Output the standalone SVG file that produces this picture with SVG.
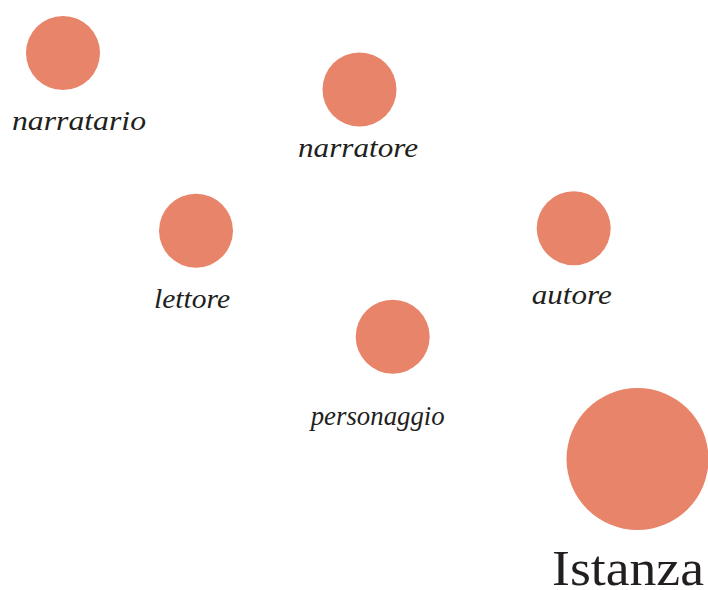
<svg xmlns="http://www.w3.org/2000/svg" width="708" height="590" viewBox="0 0 708 590">
  <style>
    .dot { fill: #E8846A; }
    .lbl { font-family: "Liberation Serif", "DejaVu Serif", serif; font-style: italic; font-size: 28px; fill: #231F20; }
    .key { font-family: "Liberation Serif", "DejaVu Serif", serif; font-size: 50px; fill: #231F20; }
  </style>
  <rect width="708" height="590" fill="#ffffff"/>
  <g id="connectors"/>
  <g id="narratario">
    <circle class="dot" cx="63" cy="53" r="37"/>
    <text class="lbl" x="12" y="130" textLength="134" lengthAdjust="spacingAndGlyphs">narratario</text>
  </g>
  <g id="narratore">
    <circle class="dot" cx="359.5" cy="89.5" r="37"/>
    <text class="lbl" x="298" y="157" textLength="120" lengthAdjust="spacingAndGlyphs">narratore</text>
  </g>
  <g id="lettore">
    <circle class="dot" cx="196" cy="230.7" r="37"/>
    <text class="lbl" x="154" y="308" textLength="76" lengthAdjust="spacingAndGlyphs">lettore</text>
  </g>
  <g id="autore">
    <circle class="dot" cx="573.7" cy="228.3" r="37"/>
    <text class="lbl" x="531.7" y="304" textLength="80" lengthAdjust="spacingAndGlyphs">autore</text>
  </g>
  <g id="personaggio">
    <circle class="dot" cx="392.7" cy="336.7" r="37"/>
    <text class="lbl" x="310.7" y="425" textLength="134" lengthAdjust="spacingAndGlyphs">personaggio</text>
  </g>
  <g id="istanza">
    <circle class="dot" cx="637.5" cy="459" r="71"/>
    <text class="key" x="552" y="585" textLength="152" lengthAdjust="spacingAndGlyphs">Istanza</text>
  </g>
</svg>
